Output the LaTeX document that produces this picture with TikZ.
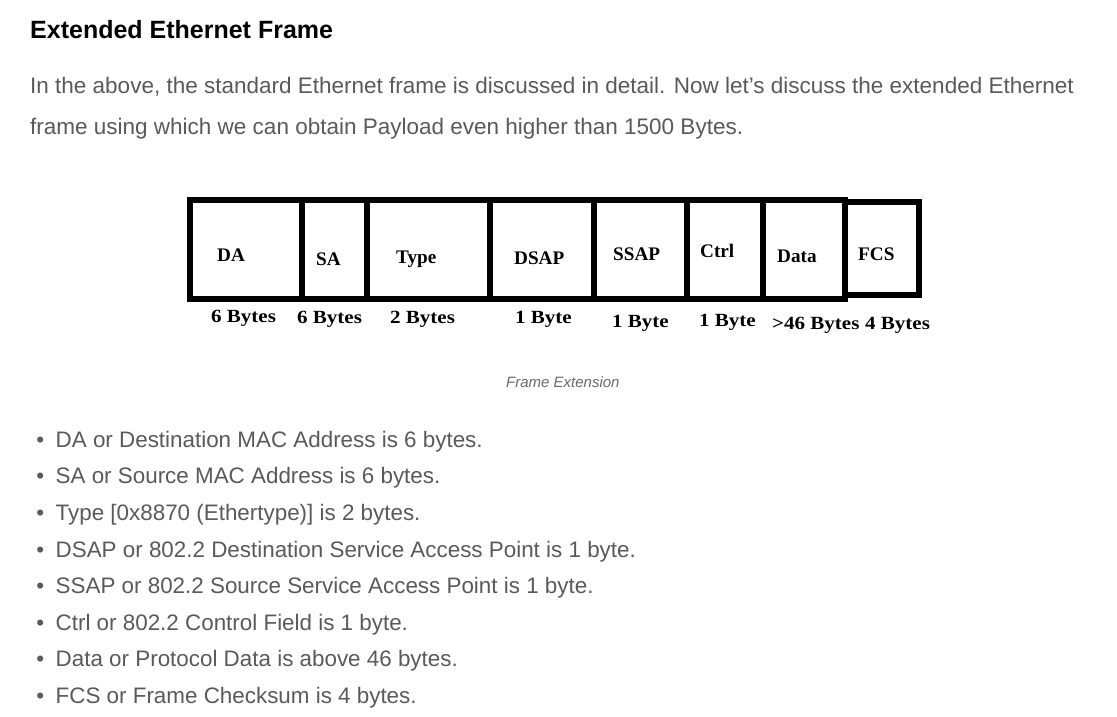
\documentclass[tikz,border=0pt]{standalone}
\usepackage{fontspec}
\setmainfont{Liberation Sans}
\newfontfamily\framefont{Liberation Serif}
\newfontfamily\bytesfont[FakeStretch=1.13]{Liberation Serif}
\usetikzlibrary{positioning}
\definecolor{bodygray}{HTML}{5A5A5A}
\definecolor{capgray}{HTML}{6A6A6A}
\newcommand{\bul}{\makebox[31pt][c]{\textbullet}}
\tikzstyle{field} = [rectangle, draw, line width=6pt, inner sep=0pt,
    outer sep=0pt, minimum height=99pt]
\tikzstyle{fieldname} = [anchor=base west, inner sep=0pt,
    font=\framefont\bfseries\fontsize{19.2}{22}\selectfont]
\tikzstyle{bytes} = [anchor=base west, inner sep=0pt,
    font=\bytesfont\bfseries\fontsize{18.6}{22}\selectfont]
\tikzstyle{para} = [anchor=base west, inner sep=0pt, text=bodygray,
    font=\fontsize{22.5}{27}\selectfont]
\tikzstyle{bulletitem} = [anchor=base west, inner sep=0pt, text=bodygray,
    font=\fontsize{22.4}{26}\selectfont]

\begin{document}
\begin{tikzpicture}[x=1pt, y=-1pt]
    \fill [white] (0,0) rectangle (1117,717);
    \useasboundingbox (0,0) rectangle (1117,717);
    % Heading and text
    \node [para, text=black, font=\bfseries\fontsize{25}{29}\selectfont] (title) at (30,38.5) {Extended Ethernet Frame};
    \node [para] (line1) at (30,93) {In the above, the standard Ethernet frame is discussed in detail. Now let’s discuss the extended Ethernet};
    \node [para] (line2) at (30,135) {frame using which we can obtain Payload even higher than 1500 Bytes.};
    % Place fields
    \node [field, minimum width=112pt] (da) at (246,249.5) {};
    \node [field, right=0pt of da, minimum width=65pt] (sa) {};
    \node [field, right=0pt of sa, minimum width=123pt] (type) {};
    \node [field, right=0pt of type, minimum width=104pt] (dsap) {};
    \node [field, right=0pt of dsap, minimum width=92.5pt] (ssap) {};
    \node [field, right=0pt of ssap, minimum width=76.5pt] (ctrl) {};
    \node [field, right=0pt of ctrl, minimum width=82pt] (data) {};
    \node [field, right=0pt of data, yshift=1pt, minimum width=73.5pt, minimum height=93pt] (fcs) {};
    % Field names
    \node [fieldname] (daname) at (217,261.5) {DA};
    \node [fieldname] (saname) at (316,265.5) {SA};
    \node [fieldname] (typename) at (396,263.5) {Type};
    \node [fieldname] (dsapname) at (514,264) {DSAP};
    \node [fieldname] (ssapname) at (613,260) {SSAP};
    \node [fieldname] (ctrlname) at (700,257) {Ctrl};
    \node [fieldname] (dataname) at (777,262) {Data};
    \node [fieldname] (fcsname) at (858,260) {FCS};
    % Field sizes
    \node [bytes] (dasize) at (211,322) {6 Bytes};
    \node [bytes] (sasize) at (297,323) {6 Bytes};
    \node [bytes] (typesize) at (390,323) {2 Bytes};
    \node [bytes] (dsapsize) at (515,323) {1 Byte};
    \node [bytes] (ssapsize) at (612,327) {1 Byte};
    \node [bytes] (ctrlsize) at (699,326) {1 Byte};
    \node [bytes] (datasize) at (772,329) {>46 Bytes};
    \node [bytes] (fcssize) at (865,329) {4 Bytes};
    % Caption
    \node [para, text=capgray, font=\itshape\fontsize{15}{18}\selectfont] (caption) at (506,387) {Frame Extension};
    % Bullet list
    \node [bulletitem] (item1) at (24.5,447) {\bul DA or Destination MAC Address is 6 bytes.};
    \node [bulletitem] (item2) at (24.5,483.5) {\bul SA or Source MAC Address is 6 bytes.};
    \node [bulletitem] (item3) at (24.5,520) {\bul Type [0x8870 (Ethertype)] is 2 bytes.};
    \node [bulletitem] (item4) at (24.5,557) {\bul DSAP or 802.2 Destination Service Access Point is 1 byte.};
    \node [bulletitem] (item5) at (24.5,593.5) {\bul SSAP or 802.2 Source Service Access Point is 1 byte.};
    \node [bulletitem] (item6) at (24.5,630) {\bul Ctrl or 802.2 Control Field is 1 byte.};
    \node [bulletitem] (item7) at (24.5,666.5) {\bul Data or Protocol Data is above 46 bytes.};
    \node [bulletitem] (item8) at (24.5,703) {\bul FCS or Frame Checksum is 4 bytes.};
\end{tikzpicture}
\end{document}
